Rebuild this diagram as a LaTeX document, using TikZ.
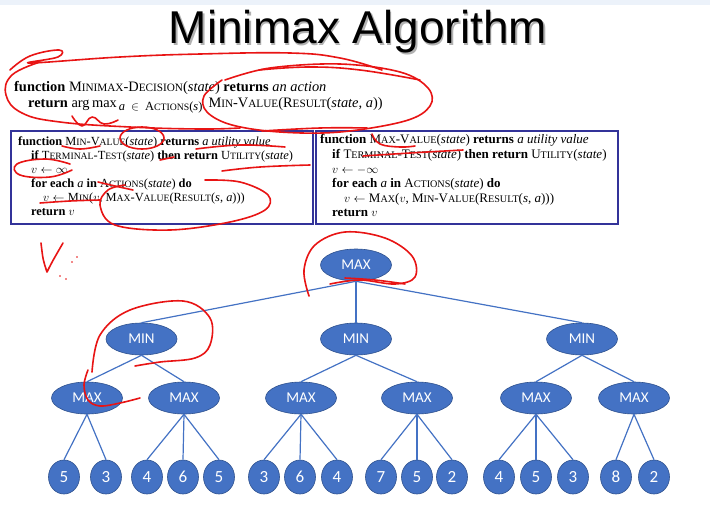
\documentclass[tikz,border=0pt]{standalone}
\usepackage{fontspec}
\usetikzlibrary{shapes.geometric}
\setmainfont{Liberation Serif}
\newfontfamily\titlefont{Liberation Sans}
\newfontfamily\nodefont{Carlito}
\makeatletter
\newcommand\lc[1]{{\fontsize{\fpeval{0.78*\f@size}}{0}\selectfont #1}}
\makeatother
\definecolor{boxblue}{RGB}{51,51,153}
\definecolor{nodeblue}{RGB}{68,114,196}
\definecolor{nodeedge}{RGB}{47,82,143}
\definecolor{ink}{RGB}{232,20,20}
\definecolor{band}{RGB}{236,242,250}
\tikzset{
  code/.style={anchor=base west,inner sep=0pt,font=\fontsize{12.4}{14}\selectfont},
  rcode/.style={anchor=base west,inner sep=0pt,font=\fontsize{13}{14}\selectfont},
  topcode/.style={anchor=base west,inner sep=0pt,font=\fontsize{14.4}{16}\selectfont},
  codebox/.style={draw=boxblue,line width=2.4pt},
  inner/.style={ellipse,fill=nodeblue,draw=nodeedge,line width=0.6pt,minimum width=71pt,minimum height=32pt,inner sep=0pt,text=white,font=\nodefont\fontsize{15}{15}\selectfont},
  leaf/.style={ellipse,fill=nodeblue,draw=nodeedge,line width=0.6pt,minimum width=31pt,minimum height=34pt,inner sep=0pt,text=white,font=\nodefont\fontsize{17}{17}\selectfont},
  edge/.style={draw=nodeblue,line width=1.2pt},
  hand/.style={draw=ink,line width=1.6pt,line cap=round,line join=round},
}
\begin{document}
\begin{tikzpicture}[x=1pt,y=-1pt]
\useasboundingbox (0,0) rectangle (710,504);
\fill[white] (0,0) rectangle (710,504);
\fill[band] (0,0) rectangle (710,5);
% title
\node[text=black!30,font=\titlefont\fontsize{46}{46}\selectfont] at (359.5,33.5) {Minimax Algorithm};
\node (title) [text=black,font=\titlefont\fontsize{46}{46}\selectfont] at (358,32) {Minimax Algorithm};
% top pseudocode
\node (t1) [topcode] at (14,91) {\textbf{function} M\lc{INIMAX}-D\lc{ECISION}(\textit{state}) \textbf{returns} \textit{an action}};
\node (t2) [topcode] at (28,107) {\textbf{return} arg\,max\raisebox{-3.5pt}{\fontsize{12.5}{12.5}\selectfont\hspace{2pt}\textit{a}\hspace{6pt}$\in$\hspace{6pt}A\lc{CTIONS}(\textit{s})}\hspace{6pt}M\lc{IN}-V\lc{ALUE}(R\lc{ESULT}(\textit{state}, \textit{a}))};
% boxes
\draw[codebox] (11,131) rectangle (313,224);
\draw[codebox] (316,131) rectangle (618,224);
\node (l1) [code] at (18,145) {\textbf{function} M\lc{IN}-V\lc{ALUE}(\textit{state}) \textbf{returns} \textit{a utility value}};
\node (l2) [code] at (31,159) {\textbf{if} T\lc{ERMINAL}-T\lc{EST}(\textit{state}) \textbf{then return} U\lc{TILITY}(\textit{state})};
\node (l3) [code] at (31,173) {$v \leftarrow \infty$};
\node (l4) [code] at (31,187) {\textbf{for each} \textit{a} \textbf{in} A\lc{CTIONS}(\textit{state}) \textbf{do}};
\node (l5) [code] at (43,201) {$v \leftarrow{}$M\lc{IN}($v$, M\lc{AX}-V\lc{ALUE}(R\lc{ESULT}(\textit{s}, \textit{a})))};
\node (l6) [code] at (31,215) {\textbf{return} $v$};
\node (r1) [rcode] at (320,143) {\textbf{function} M\lc{AX}-V\lc{ALUE}(\textit{state}) \textbf{returns} \textit{a utility value}};
\node (r2) [rcode] at (332,158) {\textbf{if} T\lc{ERMINAL}-T\lc{EST}(\textit{state}) \textbf{then return} U\lc{TILITY}(\textit{state})};
\node (r3) [rcode] at (332,173) {$v \leftarrow -\infty$};
\node (r4) [rcode] at (332,187) {\textbf{for each} \textit{a} \textbf{in} A\lc{CTIONS}(\textit{state}) \textbf{do}};
\node (r5) [rcode] at (344,202) {$v \leftarrow{}$M\lc{AX}($v$, M\lc{IN}-V\lc{ALUE}(R\lc{ESULT}(\textit{s}, \textit{a})))};
\node (r6) [rcode] at (332,216) {\textbf{return} $v$};
% tree nodes
\node (root) [inner] at (356,265) {MAX};
\node (m1) [inner] at (141.5,339) {MIN};
\node (m2) [inner] at (356,339) {MIN};
\node (m3) [inner] at (582,339) {MIN};
\node (x1) [inner] at (87,398) {MAX};
\node (x2) [inner] at (184,398) {MAX};
\node (x3) [inner] at (301,398) {MAX};
\node (x4) [inner] at (417,398) {MAX};
\node (x5) [inner] at (536,398) {MAX};
\node (x6) [inner] at (634,398) {MAX};
\foreach \n/\x/\v in {a/64/5,b/106/3,c/147/4,d/183/6,e/219/5,f/264/3,g/300/6,h/337/4,i/381/7,j/417/5,k/452/2,l/499/4,m/536/5,n/573/3,o/616/8,p/654/2}
  \node (\n) [leaf] at (\x,477) {\v};
% edges
\foreach \c in {m1,m2,m3} \draw[edge] (root.south) -- (\c.north);
\draw[edge] (m1.south) -- (x1.north); \draw[edge] (m1.south) -- (x2.north);
\draw[edge] (m2.south) -- (x3.north); \draw[edge] (m2.south) -- (x4.north);
\draw[edge] (m3.south) -- (x5.north); \draw[edge] (m3.south) -- (x6.north);
\foreach \c in {a,b} \draw[edge] (x1.south) -- (\c.north);
\foreach \c in {c,d,e} \draw[edge] (x2.south) -- (\c.north);
\foreach \c in {f,g,h} \draw[edge] (x3.south) -- (\c.north);
\foreach \c in {i,j,k} \draw[edge] (x4.south) -- (\c.north);
\foreach \c in {l,m,n} \draw[edge] (x5.south) -- (\c.north);
\foreach \c in {o,p} \draw[edge] (x6.south) -- (\c.north);
% red hand annotations
\draw[hand] plot[smooth,tension=0.7] coordinates {(10,70)(30,56)(59,50)(58,57)(30,63)(120,57)(200,54)(290,53)(340,58)(382,70)};
\draw[hand] plot[smooth,tension=0.7] coordinates {(40,62)(12,75)(6,95)(22,113)(60,122)(130,127)(200,129)(240,128)};
\draw[hand] plot[smooth,tension=0.8] coordinates {(72,116)(82,126)(92,117)(104,124)(118,120)};
\draw[hand] plot[smooth,tension=0.6] coordinates {(225,80)(270,68)(340,64)(400,72)(428,88)(430,106)(405,121)(340,132)(280,132)(232,125)(207,112)(204,96)(222,80)};
\draw[hand] plot[smooth,tension=0.7] coordinates {(259,70)(309,67)(360,70)(420,80)};
\draw[hand] (142,138) ellipse [x radius=22, y radius=11];
\draw[hand] plot[smooth,tension=0.7] coordinates {(62,146)(80,149)(100,146)};
\draw[hand] plot[smooth,tension=0.7] coordinates {(196,149)(240,145)(285,147)};
\draw[hand] plot[smooth,tension=0.7] coordinates {(160,160)(174,157)};
\draw[hand] plot[smooth,tension=0.7] coordinates {(70,164)(45,159)(17,164)(20,175)(50,177)(72,170)};
\draw[hand] plot[smooth,tension=0.7] coordinates {(222,171)(260,167)(310,165)};
\draw[hand] plot[smooth,tension=0.7] coordinates {(98,182)(115,186)(133,190)};
\draw[hand] plot[smooth,tension=0.6] coordinates {(205,180)(240,182)(268,195)(265,210)(230,222)(170,230)(115,225)(100,205)(108,190)(125,185)};
\draw[hand] plot[smooth,tension=0.7] coordinates {(40,203)(70,201)(100,200)};
\draw[hand] plot[smooth,tension=0.7] coordinates {(372,134)(380,144)(400,147)(415,146)};
\draw[hand] plot[smooth,tension=0.7] coordinates {(363,156)(410,153)(463,150)};
\draw[hand] plot[smooth,tension=0.7] coordinates {(262,131)(320,128)(367,128)};
\draw[hand] (41,243) .. controls (43,260) .. (47,272) .. controls (52,262) .. (63,243);
\foreach \p in {(72,262),(77,257),(60,276),(66,279)} \fill[ink] \p circle (0.8);
\draw[hand] plot[smooth,tension=0.6] coordinates {(309,296)(304,270)(315,245)(345,232)(385,238)(412,256)(415,277)(395,284)(360,280)(330,284)};
\draw[hand] plot[smooth,tension=0.7] coordinates {(345,278)(375,280)(405,284)};
\draw[hand] plot[smooth,tension=0.6] coordinates {(92,372)(100,335)(130,310)(183,301)(210,318)(210,345)(195,358)(160,362)(135,366)};
\draw[hand] plot[smooth,tension=0.6] coordinates {(88,370)(84,385)(88,400)(100,406)(120,403)(140,398)};
\end{tikzpicture}
\end{document}
